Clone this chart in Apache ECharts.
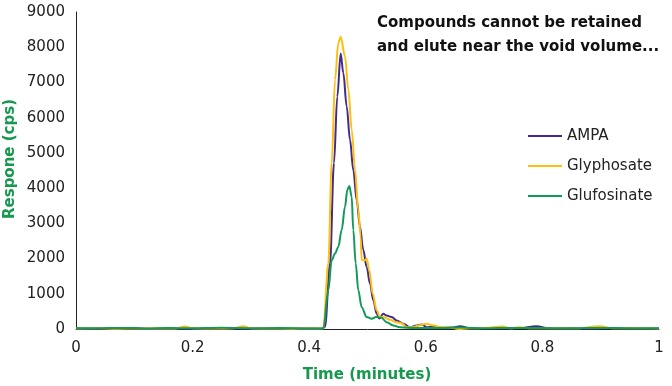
<!DOCTYPE html>
<html>
<head>
<meta charset="utf-8">
<script src="https://cdn.jsdelivr.net/npm/echarts@6/dist/echarts.min.js"></script>
<style>
html,body{margin:0;padding:0;background:#fff;}
#c{width:672px;height:386px;}
</style>
</head>
<body>
<div id="c"></div>
<script>
// ---- data (time in minutes, response in cps) ----
var seriesNames = ['AMPA', 'Glyphosate', 'Glufosinate'];
var xTicks = [0, 0.2, 0.4, 0.6, 0.8, 1];
var yTicks = [0, 1000, 2000, 3000, 4000, 5000, 6000, 7000, 8000, 9000];

var ampa = [
  [0,20],[0.03,10],[0.06,15],[0.1,25],[0.13,10],[0.16,15],[0.2,10],[0.24,20],[0.27,15],[0.3,10],
  [0.34,15],[0.37,10],[0.4,15],[0.42,10],[0.4271,60],[0.4357,1860],[0.4425,4710],[0.4482,6600],
  [0.454,7820],[0.4585,7270],[0.4643,6320],[0.47,5370],[0.4756,4520],[0.4815,3660],[0.4871,2900],
  [0.4928,2240],[0.4986,1760],[0.5043,1290],[0.51,810],[0.5158,430],[0.5202,300],[0.527,430],
  [0.533,380],[0.5415,340],[0.55,240],[0.5614,150],[0.573,50],[0.5844,100],[0.593,130],[0.6015,50],
  [0.612,70],[0.63,30],[0.645,40],[0.659,80],[0.675,20],[0.7,30],[0.73,20],[0.76,25],[0.79,80],
  [0.81,20],[0.85,25],[0.88,15],[0.92,30],[0.96,20],[1,15]
];
var glyphosate = [
  [0,15],[0.04,20],[0.07,10],[0.1,15],[0.14,20],[0.17,15],[0.187,70],[0.2,20],[0.24,15],[0.27,20],
  [0.287,80],[0.3,20],[0.34,15],[0.37,10],[0.4,15],[0.4242,20],[0.4328,1860],[0.4386,4710],
  [0.4443,7080],[0.4499,8120],[0.454,8300],[0.4614,7740],[0.4671,6800],[0.4729,5660],[0.4786,4520],
  [0.4842,3380],[0.4883,2620],[0.49,1950],[0.4957,1950],[0.4986,2000],[0.5031,1670],[0.5089,1000],
  [0.5158,530],[0.5214,340],[0.527,340],[0.5386,260],[0.55,190],[0.5587,165],[0.567,50],[0.5786,50],
  [0.587,100],[0.6015,150],[0.613,100],[0.627,50],[0.6415,50],[0.6557,0],[0.675,20],[0.7,25],
  [0.732,70],[0.745,20],[0.76,50],[0.78,20],[0.82,25],[0.86,20],[0.899,80],[0.92,20],[0.96,25],[1,15]
];
var glufosinate = [
  [0,20],[0.05,25],[0.1,30],[0.12,15],[0.16,25],[0.2,20],[0.25,35],[0.3,20],[0.35,25],[0.4,15],
  [0.4242,15],[0.4328,1100],[0.4386,1950],[0.4443,2140],[0.4499,2330],[0.4557,2810],[0.4614,3470],
  [0.4654,3950],[0.4688,4060],[0.4729,3750],[0.4756,2810],[0.4798,1860],[0.4842,1100],[0.49,620],
  [0.4986,340],[0.5072,290],[0.5146,340],[0.524,320],[0.533,190],[0.544,100],[0.5557,50],
  [0.58,25],[0.62,30],[0.66,40],[0.7,20],[0.75,30],[0.8,25],[0.85,20],[0.9,30],[0.95,20],[1,20]
];
var seriesColors = ['#402B8F', '#FDC010', '#119A58'];

var chart = echarts.init(document.getElementById('c'), null, {renderer: 'canvas'});
var FONT = '"DejaVu Sans", Verdana, sans-serif';
var GREEN = '#16994F';

var dataSets = [ampa, glyphosate, glufosinate];
var series = seriesNames.map(function (n, i) {
  return {
    name: n, type: 'line', data: dataSets[i], symbol: 'none', showSymbol: false,
    smooth: 0.35, smoothMonotone: 'x',
    lineStyle: {color: seriesColors[i], width: 2},
    itemStyle: {color: seriesColors[i]},
    animation: false
  };
});

chart.setOption({
  animation: false,
  backgroundColor: '#fff',
  grid: {left: 76, right: 13, top: 12, bottom: 57, containLabel: false},
  xAxis: {
    type: 'value', min: xTicks[0], max: xTicks[xTicks.length - 1], interval: 0.2,
    axisLine: {show: true, lineStyle: {color: '#222', width: 1}},
    axisTick: {show: false},
    splitLine: {show: false},
    axisLabel: {margin: 12, color: '#222', fontSize: 15, fontFamily: FONT,
      formatter: function (v) { return String(Math.round(v * 10) / 10); }}
  },
  yAxis: {
    type: 'value', min: yTicks[0], max: yTicks[yTicks.length - 1], interval: 1000,
    axisLine: {show: true, lineStyle: {color: '#222', width: 1}},
    axisTick: {show: false},
    splitLine: {show: false},
    axisLabel: {margin: 11, color: '#222', fontSize: 15, fontFamily: FONT,
      formatter: function (v) { return String(v); }}
  },
  legend: {
    orient: 'vertical', left: 523, top: 122, itemGap: 12,
    itemWidth: 34, itemHeight: 2, icon: 'rect',
    data: seriesNames,
    textStyle: {color: '#222', fontSize: 15, fontFamily: FONT, lineHeight: 18}
  },
  graphic: [
    {type: 'text', x: 367, y: 375, style: {text: 'Time (minutes)', align: 'center', verticalAlign: 'middle',
      font: 'bold 15px ' + FONT, fill: GREEN}},
    {type: 'text', x: 10, y: 159, rotation: Math.PI / 2, style: {text: 'Respone (cps)', align: 'center', verticalAlign: 'middle',
      font: 'bold 15px ' + FONT, fill: GREEN}},
    {type: 'text', x: 377, y: 23, style: {text: 'Compounds cannot be retained', align: 'left', verticalAlign: 'middle',
      font: 'bold 15px ' + FONT, fill: '#111'}},
    {type: 'text', x: 377, y: 47, style: {text: 'and elute near the void volume...', align: 'left', verticalAlign: 'middle',
      font: 'bold 15px ' + FONT, fill: '#111'}}
  ],
  series: series
});
</script>
</body>
</html>
